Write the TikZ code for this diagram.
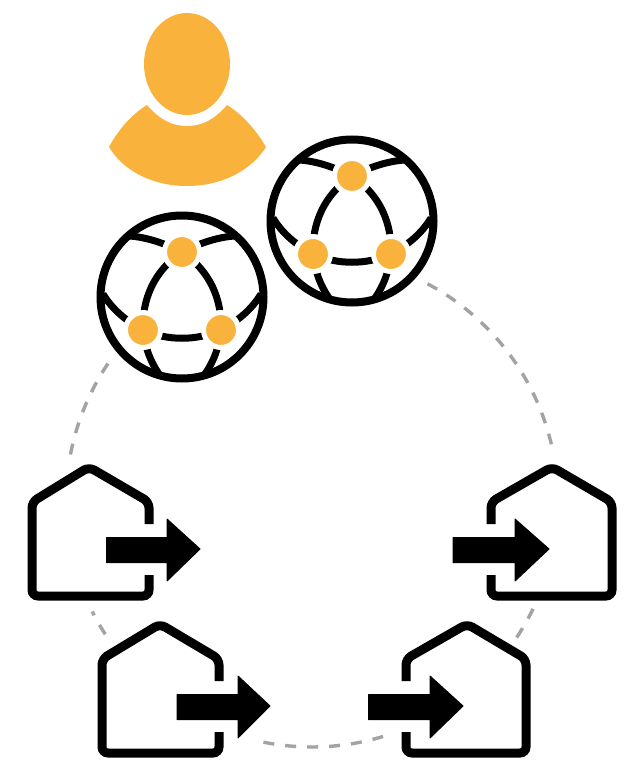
\documentclass[tikz,border=0pt]{standalone}
\definecolor{amber}{HTML}{F9B23C}
\definecolor{ringgray}{HTML}{A3A3A3}
\tikzset{
  ring/.style={draw=ringgray,line width=3.4pt,dash pattern=on 11pt off 11pt},
  ink/.style={draw=black,line width=8pt},
  spoke/.style={draw=black,line width=7pt},
  hub/.style={circle,fill=amber,draw=white,line width=5pt,minimum size=35pt,inner sep=0pt,outer sep=0pt},
  wall/.style={draw=black,line width=9pt,rounded corners=6pt},
  pointer/.style={fill=black,draw=black,line width=1pt,line join=round}
}
\newcommand{\ringarc}[2]{\draw[ring] ([shift={(#1:246)}]ringc) arc[start angle=#1,end angle=#2,radius=246];}
\newcommand{\globe}[3]{%
  \begin{scope}[shift={(#1,#2)}]
    \draw[ink] (0,0) circle[radius=81.5];
    \coordinate (#3a) at (0,-45);
    \coordinate (#3b) at (-39,33);
    \coordinate (#3c) at (39,33);
    \draw[spoke] (#3a) .. controls (-18,-54) and (-36,-60) .. (-53,-61);
    \draw[spoke] (#3a) .. controls (18,-54) and (36,-60) .. (53,-61);
    \draw[spoke] (#3a) .. controls (-28,-26) and (-40,2) .. (#3b);
    \draw[spoke] (#3a) .. controls (28,-26) and (40,2) .. (#3c);
    \draw[spoke] (#3b) .. controls (-15,44) and (15,44) .. (#3c);
    \draw[spoke] (#3b) .. controls (-56,24) and (-70,12) .. (-79,-3);
    \draw[spoke] (#3c) .. controls (56,24) and (70,12) .. (79,-3);
    \draw[spoke] (#3b) .. controls (-37,50) and (-32,64) .. (-23,77);
    \draw[spoke] (#3c) .. controls (37,50) and (32,64) .. (23,77);
    \node[hub] (#3na) at (#3a) {};
    \node[hub] (#3nb) at (#3b) {};
    \node[hub] (#3nc) at (#3c) {};
  \end{scope}}
% door x, far x, peak x, dy
\newcommand{\housewall}[4]{%
  \draw[wall] (#1,524+#4) -- (#1,502+#4) -- (#3,467+#4) -- (#2,502+#4) -- (#2,596+#4) -- (#1,596+#4) -- (#1,575+#4);}
% shaft start, neck, tip, dy
\newcommand{\housearrow}[4]{%
  \draw[pointer] (#1,537.5+#4) -- (#2,537.5+#4) -- (#2,519+#4) -- (#3,549+#4) -- (#2,581+#4) -- (#2,562.5+#4) -- (#1,562.5+#4) -- cycle;}
\begin{document}
\begin{tikzpicture}[x=1pt,y=-1pt]
  \useasboundingbox (0,0) rectangle (640,776);
  \coordinate (ringc) at (312,501);
  \ringarc{-62}{-13.1}
  \ringarc{26}{34}
  \ringarc{73.2}{102.5}
  \ringarc{147.2}{153.3}
  \ringarc{190.9}{214.3}
  % person
  \fill[amber] (187,64) ellipse[x radius=43,y radius=51];
  \fill[amber,line join=round] (147,105) .. controls (160,120) and (172,126) .. (187,126)
     .. controls (202,126) and (214,120) .. (227,105)
     .. controls (242,114) and (256,130) .. (266,147)
     .. controls (250,172) and (220,186) .. (187,186)
     .. controls (154,186) and (124,172) .. (109,147)
     .. controls (118,130) and (132,114) .. (147,105) -- cycle;
  % globes
  \globe{352}{221}{p}
  \globe{182}{297}{q}
  % houses
  \housewall{149}{32}{89}{0}
  \housearrow{106.5}{167}{200}{0}
  \housewall{219}{102}{160}{157}
  \housearrow{177}{238}{270}{157}
  \housewall{491}{612}{552}{0}
  \housearrow{453}{515}{549}{0}
  \housewall{406}{526}{467}{157}
  \housearrow{368.5}{430}{463}{157}
\end{tikzpicture}
\end{document}
